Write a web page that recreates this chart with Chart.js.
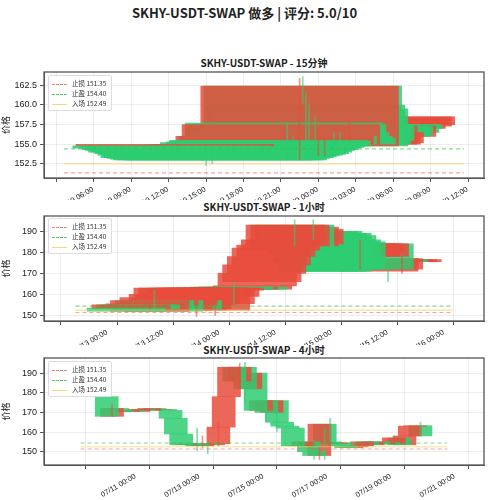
<!DOCTYPE html>
<html>
<head>
<meta charset="utf-8">
<script src="https://cdn.jsdelivr.net/npm/chart.js@4"></script>
<style>
body { margin:0; width:489px; height:500px; background:#fff; font-family:"DejaVu Sans", "Noto Sans CJK SC", sans-serif; position:relative; overflow:hidden; }
.main { position:absolute; top:3px; left:0; width:489px; text-align:center; font-weight:bold; font-size:13px; color:#222; font-family:"Noto Sans CJK SC", sans-serif; }
.pt { position:absolute; left:44px; width:440px; text-align:center; font-weight:bold; font-size:10px; color:#222; font-family:"Noto Sans CJK SC", sans-serif; }
canvas { position:absolute; left:0; }
.lg { position:absolute; left:48px; width:56px; border:1px solid #ddd; background:rgba(255,255,255,0.85); font-size:6.5px; color:#333; padding:2px 3px; font-family:"Noto Sans CJK SC", sans-serif; line-height:10px; border-radius:2px; }
.lg span.l { display:inline-block; width:15px; height:0; margin-right:5px; vertical-align:middle; }
</style>
</head>
<body>
<div class="main">SKHY-USDT-SWAP 做多 | 评分: 5.0/10</div>
<div class="pt" style="top:55px">SKHY-USDT-SWAP - 15分钟</div>
<div class="pt" style="top:199px">SKHY-USDT-SWAP - 1小时</div>
<div class="pt" style="top:342px">SKHY-USDT-SWAP - 4小时</div>
<canvas id="c1" width="489" height="150" style="top:50px"></canvas>
<canvas id="c2" width="489" height="150" style="top:195px"></canvas>
<canvas id="c3" width="489" height="160" style="top:338px"></canvas>
<div class="lg" style="top:75px"><div><span class="l" style="border-top:1px dashed #f08080"></span>止损 151.35</div><div><span class="l" style="border-top:1px dashed #5ad05a"></span>止盈 154.40</div><div><span class="l" style="border-top:1px solid #f5d77a"></span>入场 152.49</div></div>
<div class="lg" style="top:218px"><div><span class="l" style="border-top:1px dashed #f08080"></span>止损 151.35</div><div><span class="l" style="border-top:1px dashed #5ad05a"></span>止盈 154.40</div><div><span class="l" style="border-top:1px solid #f5d77a"></span>入场 152.49</div></div>
<div class="lg" style="top:361px"><div><span class="l" style="border-top:1px dashed #f08080"></span>止损 151.35</div><div><span class="l" style="border-top:1px dashed #5ad05a"></span>止盈 154.40</div><div><span class="l" style="border-top:1px solid #f5d77a"></span>入场 152.49</div></div>
<script>
const stopLoss = 151.35, takeProfit = 154.40, entry = 152.49;

// 15m: hours from 07/19 00:00, first candle 13:45
const m15Start = 13.75, m15Step = 0.25;
const m15Open = [154.8,154.8,154.7,154.8,154.7,154.8,154.6,154.7,154.5,154.6,154.4,154.5,154.3,154.4,154.6,154.5,154.7,154.4,154.6,154.5,
  154.7,154.8,154.6,154.9,154.8,155.0,154.9,155.0,155.2,155.0,155.3,155.5,155.4,155.0,156.0,155.0,157.7,157.5,156.5,156.0,155.8,
  154.8,162.4,160.0,159.5,157.5,157.5,155.0,155.0,155.2,157.3,157.2,157.3,156.0,157.5,157.5,157.0,157.5,157.3,157.5];
const m15Close = [154.5,155.0,154.5,154.3,154.2,154.0,154.0,153.8,153.6,153.3,153.3,153.2,153.1,153.0,153.0,153.1,153.0,153.0,153.0,153.2,
  153.3,153.4,153.5,153.6,153.7,153.8,154.0,154.2,154.3,154.5,154.6,154.8,154.8,156.0,155.0,157.5,155.8,155.6,155.5,155.2,155.0,
  162.4,155.0,155.0,154.8,155.0,155.5,157.3,156.5,156.5,156.0,156.0,156.2,157.3,156.5,157.0,157.5,158.3,158.5,158.5];
const m15WickT = [16.5,17.0,23.0,23.5,24.0,24.25,24.5,24.75,25.25,25.5,26.0,26.75,27.25,28.0];
const m15WickLo = [152.3,152.5,153.0,153.0,153.0,160.2,155.0,154.0,154.0,153.5,153.5,154.0,155.0,155.5];
const m15WickHi = [154.5,154.5,157.7,156.0,163.4,163.6,161.5,160.0,158.5,157.0,156.0,156.5,156.5,158.5];
const m15Ticks = [6,9,12,15,18,21,24,27,30,33,36];
const m15TickLabels = ["07/19 06:00","07/19 09:00","07/19 12:00","07/19 15:00","07/19 18:00","07/19 21:00","07/20 00:00","07/20 03:00","07/20 06:00","07/20 09:00","07/20 12:00"];

// 1h: hours from 07/13 00:00, first candle 08:00
const h1Start = 8, h1Step = 1;
const h1Open = [153.5,153,155,155,153,152,157,155,157,157,152.5,155,157,152.5,153,155,156,158,152.5,155.5,159,162,163.5,163.5,162.5,163.5,163.5,162.5,
  164,166,170,174,178,181,183.5,183,
  193,183,184,190,189,190,190,189,189,188,186,185,178,179,178,180,178,184,171,172,176.5,175.5,175.5,175.5];
const h1Close = [152,155,153,153.2,155.5,157,153,158.5,152,160,163,163,153,163,163,163,163,163,163,163,163,163,162.5,162.5,163.5,162.5,162.5,164,
  170,174,178,182,183.5,186,193,193,
  182,192,191,179,175,171,171,171,171,172,172,172,184,184,184,184,184,172,177,177,175.5,176.5,176.5,176.5];
const h1WickT = [13,14,23,25,27,31,44,48,58,64,67];
const h1WickLo = [153,153,149.5,152,150,155,183,186,172,166,170];
const h1WickHi = [159.5,162,156,158,157,165,195.5,195.5,186,176,178];
const h1Ticks = [0,12,24,36,48,60,72];
const h1TickLabels = ["07/13 00:00","07/13 12:00","07/14 00:00","07/14 12:00","07/15 00:00","07/15 12:00","07/16 00:00"];

// 4h: hours from 07/10 00:00, first candle 16:00
const h4Start = 16, h4Step = 4;
const h4Open = [178,168,172,171,170.5,171,170.5,171.5,171,172,171.5,171.5,171,167,159,153.5,154,153.5,153,154,153.5,154,162.5,178,
  193,186,193,182,190,171,176,170,176,165,163,162,153,153,155,150,148,164,155,154,154.5,153,152,152.5,153,155,153.5,155,154,154.5,
  154,157,153.5,158,163,163.2];
const h4Close = [168,172,171,170.5,171,170.5,171.5,171,172,171.5,171.5,171,167,159,153.5,154,153.5,153,154,153.5,154,162.5,178,193,
  186,193,182,190,171,176,170,176,165,163,162,153,153,155,150,148,164,155,154,154.5,153,152,152.5,153,155,153.5,155,154,154.5,154,
  157,153.5,158,163,163.2,158];
const h4WickT = [20,84,88,92,100,116,120,136,144,172,176,180,184,252];
const h4WickLo = [168,150.5,152,149,153,182,175,165,160,146,146,146,155,158];
const h4WickHi = [174,162,158,155,165,195,195.5,173,172,156,152,162,167,165];
const h4Ticks = [24,72,120,168,216,264];
const h4TickLabels = ["07/11 00:00","07/13 00:00","07/15 00:00","07/17 00:00","07/19 00:00","07/21 00:00"];

const UP = "rgba(231,76,60,0.85)", DOWN = "rgba(46,204,113,0.85)";
const BODY_HOURS = 14.4; // candle body width: 0.6 day

const frame = {
  id: "frame",
  afterDraw(c) {
    const a = c.chartArea, g = c.ctx;
    g.save(); g.strokeStyle = "#555"; g.lineWidth = 1.3;
    g.strokeRect(a.left, a.top, a.right - a.left, a.bottom - a.top); g.restore();
  }
};

function panel(id, cfg) {
  const bodies = cfg.close.map((c, i) => ({x: cfg.start + i * cfg.step, y: [cfg.open[i], c]}));
  const colors = cfg.close.map((c, i) => c >= cfg.open[i] ? UP : DOWN);
  const wicks = cfg.wickT.map((t, i) => ({x: t, y: [cfg.wickLo[i], cfg.wickHi[i]]}));
  const wickCol = cfg.wickT.map(t => {
    const i = Math.round((t - cfg.start) / cfg.step);
    return colors[i] === UP ? "rgba(231,76,60,0.6)" : "rgba(46,204,113,0.6)";
  });
  const hl = (v, col, dash) => ({
    type: "line", data: [{x: cfg.xmin, y: v}, {x: cfg.xmax, y: v}],
    borderColor: col, borderDash: dash, borderWidth: 1.2, pointRadius: 0, order: -1
  });
  const bodyPx = BODY_HOURS * 440 / (cfg.xmax - cfg.xmin);
  // older candles end up on top, so paint newest first
  new Chart(document.getElementById(id), {
    data: {
      datasets: [
        {type: "bar", data: bodies.slice().reverse(), backgroundColor: colors.slice().reverse(), borderWidth: 0, grouped: false,
         barThickness: bodyPx, order: 2},
        {type: "bar", data: wicks, backgroundColor: wickCol, borderWidth: 0, grouped: false, barThickness: 1, order: 1},
        hl(stopLoss, "rgba(240,100,100,0.6)", [4, 3]),
        hl(takeProfit, "rgba(60,190,60,0.6)", [4, 3]),
        hl(entry, "rgba(245,200,80,0.6)", [])
      ]
    },
    options: {
      responsive: false, animation: false,
      layout: {padding: {top: cfg.top, right: 5, left: 0, bottom: 0}},
      plugins: {legend: {display: false}, tooltip: {enabled: false}},
      scales: {
        x: {
          type: "linear", min: cfg.xmin, max: cfg.xmax,
          afterBuildTicks: s => { s.ticks = cfg.ticks.map(v => ({value: v})); },
          afterFit: s => { s.height = cfg.xh; },
          ticks: {minRotation: 30, maxRotation: 30, font: {size: 7.5}, color: "#222", labelOffset: 18,
                  callback: v => cfg.tickLabels[cfg.ticks.indexOf(v)]},
          grid: {color: "rgba(0,0,0,0.07)", tickLength: 4, tickColor: "#555"},
          border: {color: "#555"}
        },
        y: {
          min: cfg.ymin, max: cfg.ymax,
          afterBuildTicks: s => { s.ticks = cfg.yticks.map(v => ({value: v})); },
          afterFit: s => { s.width = 44; },
          ticks: {font: {size: 9}, color: "#222", callback: v => cfg.yfmt(v)},
          title: {display: true, text: "价格", font: {size: 9, family: "Noto Sans CJK SC"}, color: "#222", padding: {top: 0, bottom: 4}},
          grid: {color: "rgba(0,0,0,0.07)", tickLength: 4, tickColor: "#555"},
          border: {color: "#555"}
        }
      }
    },
    plugins: [frame]
  });
}

panel("c1", {start: m15Start, step: m15Step, open: m15Open, close: m15Close,
  wickT: m15WickT, wickLo: m15WickLo, wickHi: m15WickHi, ticks: m15Ticks, tickLabels: m15TickLabels,
  xmin: 5.12, xmax: 37.17, ymin: 150.7, ymax: 164.2, yticks: [152.5,155,157.5,160,162.5],
  yfmt: v => v.toFixed(1), top: 22, xh: 22});
panel("c2", {start: h1Start, step: h1Step, open: h1Open, close: h1Close,
  wickT: h1WickT, wickLo: h1WickLo, wickHi: h1WickHi, ticks: h1Ticks, tickLabels: h1TickLabels,
  xmin: -2.9, xmax: 77.8, ymin: 147.3, ymax: 197.3, yticks: [150,160,170,180,190],
  yfmt: v => String(v), top: 21, xh: 24});
panel("c3", {start: h4Start, step: h4Step, open: h4Open, close: h4Close,
  wickT: h4WickT, wickLo: h4WickLo, wickHi: h4WickHi, ticks: h4Ticks, tickLabels: h4TickLabels,
  xmin: -3.6, xmax: 272.2, ymin: 143.2, ymax: 197.7, yticks: [150,160,170,180,190],
  yfmt: v => String(v), top: 20, xh: 33});
</script>
</body>
</html>
